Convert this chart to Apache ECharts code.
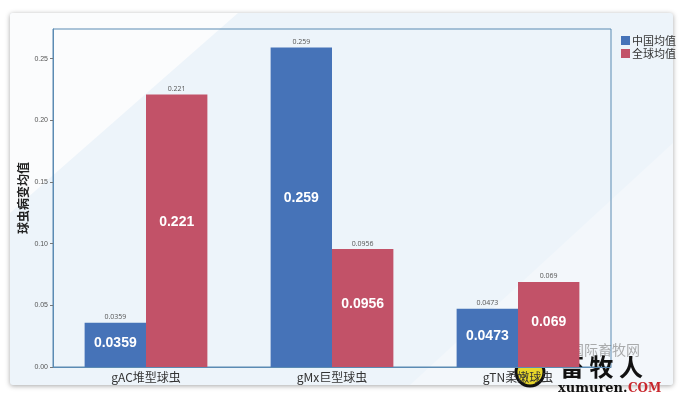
<!DOCTYPE html>
<html>
<head>
<meta charset="utf-8">
<script src="https://cdn.jsdelivr.net/npm/echarts@6/dist/echarts.min.js"></script>
<style>
	html, body {
		margin: 0;
		padding: 0;
		background: #fff;
	}
	.wrap {
		position: relative;
		width: 685px;
		height: 398px;
		overflow: hidden;
	}
	.card {
		position: absolute;
		left: 10px;
		top: 13px;
		width: 663px;
		height: 372px;
		background: #edf4fa;
		box-shadow: 0 1px 5px rgba(0, 0, 0, 0.35);
		border-radius: 3px;
		overflow: hidden;
	}
	.card .shine {
		position: absolute;
		left: 0;
		top: 0;
		width: 100%;
		height: 100%;
		background: #fbfcfd;
		clip-path: polygon(0 0, 228px 0, 0 200px);
	}
	.card .shine2 {
		position: absolute;
		left: 0;
		top: 0;
		width: 100%;
		height: 100%;
		background: #f3f7fb;
		clip-path: polygon(400px 372px, 663px 130px, 663px 372px);
	}
	#chart {
		position: absolute;
		left: 0;
		top: 0;
		width: 685px;
		height: 398px;
	}
</style>
</head>
<body>
<div class="wrap">
	<div class="card"><div class="shine"></div><div class="shine2"></div></div>
	<div id="chart"></div>
</div>
<script>
// 数据
const categories = ['gAC堆型球虫', 'gMx巨型球虫', 'gTN柔嫩球虫']
const chinaAvg = [0.0359, 0.259, 0.0473]
const globalAvg = [0.221, 0.0956, 0.069]
const seriesNames = ['中国均值', '全球均值']
const yTicks = [0, 0.05, 0.1, 0.15, 0.2, 0.25]

const blue = '#4673b8'
const red = '#c25268'

const myEchart = echarts.init(document.getElementById('chart'))

// 柱内的大号白色标签
const innerLabel = {
	show: true,
	position: ['50%', '47%'],
	align: 'center',
	verticalAlign: 'middle',
	color: '#fff',
	fontSize: 14,
	fontWeight: 'bold',
	fontFamily: '"Liberation Sans", sans-serif'
}

// 柱顶的小号标签 (透明柱叠在第二条 x 轴上)
const topLabel = {
	show: true,
	position: 'top',
	distance: 2,
	color: '#555',
	fontSize: 7,
	fontFamily: '"Open Sans", sans-serif'
}

const option = {
	animation: false,
	legend: {
		orient: 'vertical',
		left: 616,
		top: 30,
		itemWidth: 9,
		itemHeight: 9,
		itemGap: 2,
		icon: 'rect',
		textStyle: {
			color: '#333',
			fontSize: 11,
			padding: [0, 0, 0, -3],
			fontFamily: '"Noto Sans CJK SC", sans-serif'
		},
		data: seriesNames
	},
	grid: {
		left: 53,
		right: 74,
		top: 29,
		bottom: 31,
		show: true,
		borderColor: '#5b8bb3',
		borderWidth: 1
	},
	xAxis: [
		{
			type: 'category',
			data: categories,
			axisLine: { lineStyle: { color: '#5b8bb3' } },
			axisTick: { show: false },
			axisLabel: {
				color: '#333',
				fontSize: 12,
				margin: 4,
				fontFamily: '"Noto Sans CJK SC", sans-serif'
			}
		},
		{
			type: 'category',
			data: categories,
			show: false
		}
	],
	yAxis: {
		type: 'value',
		min: 0,
		max: 0.274,
		interval: 0.05,
		name: '球虫病变均值',
		nameLocation: 'middle',
		nameGap: 24,
		nameMoveOverlap: false,
		nameTextStyle: {
			color: '#222',
			fontSize: 12,
			fontWeight: 'bold',
			fontFamily: '"Noto Sans CJK SC", sans-serif'
		},
		axisLine: { show: true, lineStyle: { color: '#5b8bb3' } },
		axisTick: { show: true, length: 3, lineStyle: { color: '#777' } },
		splitLine: { show: false },
		axisLabel: {
			color: '#555',
			fontSize: 7,
			margin: 5,
			showMaxLabel: false,
			formatter: v => (yTicks.some(t => Math.abs(t - v) < 1e-9) ? v.toFixed(2) : '')
		}
	},
	series: [
		{
			name: seriesNames[0],
			type: 'bar',
			barGap: 0,
			barCategoryGap: '34%',
			itemStyle: { color: blue },
			label: innerLabel,
			data: chinaAvg
		},
		{
			name: seriesNames[1],
			type: 'bar',
			barGap: 0,
			barCategoryGap: '34%',
			itemStyle: { color: red },
			label: innerLabel,
			data: globalAvg
		},
		{
			type: 'bar',
			xAxisIndex: 1,
			barGap: 0,
			barCategoryGap: '34%',
			silent: true,
			itemStyle: { color: 'rgba(0,0,0,0)' },
			label: topLabel,
			data: chinaAvg
		},
		{
			type: 'bar',
			xAxisIndex: 1,
			barGap: 0,
			barCategoryGap: '34%',
			silent: true,
			itemStyle: { color: 'rgba(0,0,0,0)' },
			label: topLabel,
			data: globalAvg
		}
	],
	// 右下角水印
	graphic: [
		{
			type: 'text',
			left: 570,
			top: 343,
			style: {
				text: '国际畜牧网',
				fill: 'rgba(120,120,120,0.6)',
				font: '14px "Noto Sans CJK SC"'
			}
		},
		{
			type: 'circle',
			shape: { cx: 530, cy: 372, r: 14 },
			style: { fill: '#e8d62a', stroke: '#111', lineWidth: 3 }
		},
		{
			type: 'text',
			left: 560,
			top: 355,
			style: {
				text: '畜 牧 人',
				fill: '#111',
				font: 'bold 24px "Noto Sans CJK SC"'
			}
		},
		{
			type: 'text',
			left: 558,
			top: 382,
			style: {
				text: 'xumuren.',
				fill: '#111',
				font: 'bold 13px "DejaVu Serif"'
			}
		},
		{
			type: 'text',
			left: 628,
			top: 383,
			style: {
				text: 'COM',
				fill: '#c8262c',
				font: 'bold 12px "DejaVu Serif"'
			}
		}
	]
}

myEchart.setOption(option)
</script>
</body>
</html>
